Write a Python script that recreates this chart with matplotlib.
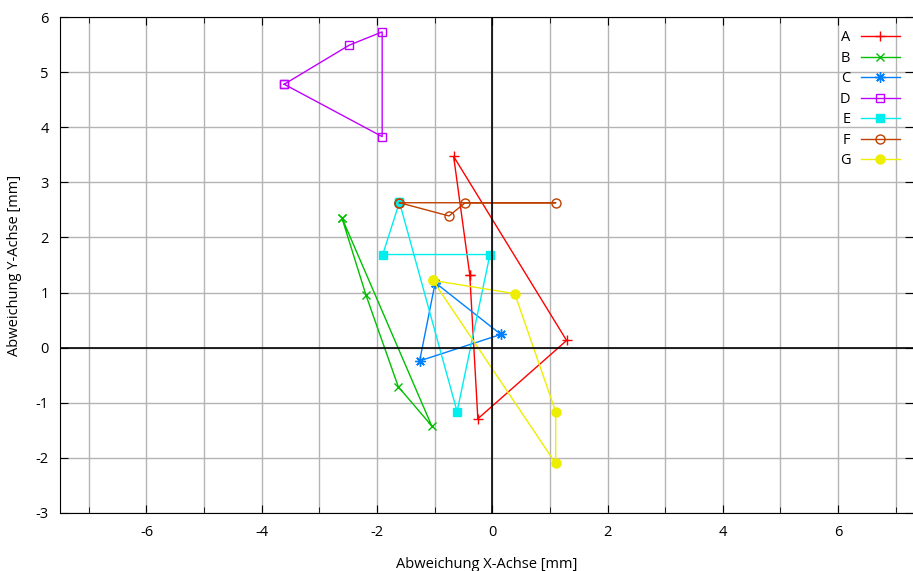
import numpy as np
import matplotlib.pyplot as plt

plt.rcParams['font.family'] = ['Open Sans', 'DejaVu Sans']
plt.rcParams['axes.unicode_minus'] = False

# Messpunkte je Serie (geschlossener Polygonzug)
labels = ["A", "B", "C", "D", "E", "F", "G"]
a_x = [-0.39, -0.67, 1.29, -0.25, -0.39]
a_y = [1.32, 3.47, 0.13, -1.29, 1.32]
b_x = [-2.61, -2.19, -1.63, -1.05, -2.61]
b_y = [2.36, 0.95, -0.71, -1.42, 2.36]
c_x = [-0.99, 0.15, -1.26, -0.99]
c_y = [1.18, 0.24, -0.24, 1.18]
d_x = [-3.61, -2.48, -1.91, -1.91, -3.61]
d_y = [4.78, 5.49, 5.73, 3.83, 4.78]
e_x = [-1.61, -1.90, -0.04, -0.61, -1.61]
e_y = [2.64, 1.69, 1.69, -1.16, 2.64]
f_x = [-1.61, -0.75, -0.47, 1.10, -1.61]
f_y = [2.63, 2.39, 2.63, 2.63, 2.63]
g_x = [-1.03, 0.39, 1.10, 1.10, -1.03]
g_y = [1.22, 0.98, -1.16, -2.10, 1.22]

series_x = [a_x, b_x, c_x, d_x, e_x, f_x, g_x]
series_y = [a_y, b_y, c_y, d_y, e_y, f_y, g_y]
colors = ["#ff0000", "#00c000", "#0080ff", "#c000ff", "#00eeee", "#c04000", "#eeee00"]
markers = ["+", "x", (8, 2, 0), "s", "s", "o", "o"]
fills = ["full", "full", "full", "none", "full", "none", "full"]
sizes = [7, 6, 7.5, 6, 6, 6.5, 6.5]

fig = plt.figure(figsize=(9.13, 5.71), dpi=100)
ax = fig.add_axes([0.0657, 0.1016, 0.9343, 0.8686])

for xs, ys, lab, col, mk, fs, ms in zip(series_x, series_y, labels, colors, markers, fills, sizes):
    ax.plot(xs, ys, color=col, lw=1, marker=mk, fillstyle=fs, ms=ms,
            markeredgewidth=1, label=lab)

ax.set_xlim(-7.5, 7.3)
ax.set_ylim(-3, 6)
ax.set_xticks([-6, -4, -2, 0, 2, 4, 6])
ax.set_xticks(np.arange(-7, 8, 1), minor=True)
ax.set_yticks(np.arange(-3, 7, 1))
ax.grid(True, which='both', color='#b4b4b4', lw=1)
ax.axhline(0, color='black', lw=1.2)
ax.axvline(0, color='black', lw=1.2)
ax.set_axisbelow(True)
ax.tick_params(which='both', direction='in', top=True, right=True, labelsize=10.5)
ax.tick_params(which='major', length=6)
ax.tick_params(which='minor', length=4)
ax.tick_params(axis='x', pad=9)
ax.tick_params(axis='y', pad=8)
ax.spines['right'].set_visible(False)

ax.set_xlabel("Abweichung X-Achse [mm]", fontsize=10.5, labelpad=12)
ax.set_ylabel("Abweichung Y-Achse [mm]", fontsize=10.5, labelpad=10)

ax.legend(loc='upper right', frameon=False, markerfirst=False, fontsize=10.5,
          handlelength=2.7, handletextpad=0.7, labelspacing=0.38,
          borderaxespad=0.0, borderpad=0.9)

fig.savefig("out.png", dpi=100)
